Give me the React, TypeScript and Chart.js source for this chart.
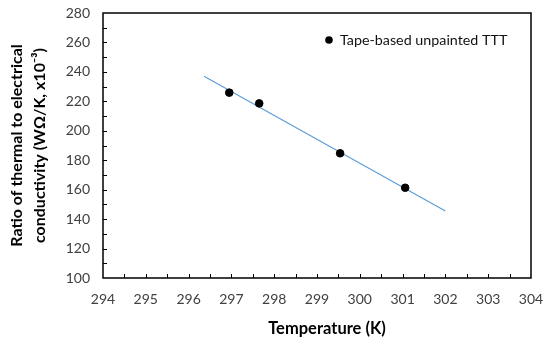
import { useEffect, useRef } from 'react';
import { Chart, registerables } from 'chart.js';

Chart.register(...registerables);

// ---- data ----
const temperatures = [296.95, 297.65, 299.54, 301.06];
const ratios = [225.9, 218.6, 184.7, 161.3];
const trendTemperatures = [296.36, 302.0];
const trendRatios = [237.1, 145.5];
const seriesLabel = 'Tape-based unpainted TTT';
const xTitle = 'Temperature (K)';
const yTitle = ['Ratio of thermal to electrical', 'conductivity (WΩ/K, x10⁻³)'];
const xRange = [294, 304];
const yRange = [100, 280];
const xStep = 1;
const yStep = 20;
const xMinorStep = 0.5;
const yMinorStep = 10;

const FONT = 'Lato, "Open Sans", sans-serif';

const decorPlugin = {
  id: 'decor',
  afterDraw(chart: any) {
    const { ctx, chartArea } = chart;
    const { left, right, top, bottom } = chartArea;
    const xs = chart.scales.x;
    const ys = chart.scales.y;
    ctx.save();
    // inner ticks
    ctx.strokeStyle = '#000';
    ctx.lineWidth = 1;
    ctx.beginPath();
    for (let v = xRange[0] + xMinorStep; v < xRange[1] - 1e-9; v += xMinorStep) {
      const px = Math.round(xs.getPixelForValue(v)) + 0.5;
      ctx.moveTo(px, bottom);
      ctx.lineTo(px, bottom - 4);
    }
    for (let v = yRange[0] + yMinorStep; v < yRange[1] - 1e-9; v += yMinorStep) {
      const py = Math.round(ys.getPixelForValue(v)) + 0.5;
      ctx.moveTo(left, py);
      ctx.lineTo(left + 4, py);
    }
    ctx.stroke();
    // frame
    ctx.lineWidth = 1.5;
    ctx.strokeRect(left, top, right - left, bottom - top);
    // legend
    const ds = chart.data.datasets[0];
    const lx = right - 202;
    const ly = top + 27;
    ctx.fillStyle = ds.backgroundColor;
    ctx.beginPath();
    ctx.arc(lx, ly, 3.8, 0, Math.PI * 2);
    ctx.fill();
    ctx.fillStyle = '#111';
    ctx.font = `14.3px ${FONT}`;
    ctx.textBaseline = 'middle';
    ctx.textAlign = 'left';
    ctx.fillText(ds.label, lx + 11, ly);
    // x title
    ctx.font = `bold 16.5px ${FONT}`;
    ctx.textAlign = 'center';
    ctx.fillStyle = '#000';
    ctx.fillText(xTitle, (left + right) / 2 + 10, 329);
    ctx.restore();
  },
};

export default function App() {
  const ref = useRef<HTMLCanvasElement | null>(null);

  useEffect(() => {
    if (!ref.current) return;
    const chart = new Chart(ref.current, {
      type: 'scatter',
      data: {
        datasets: [
          {
            label: seriesLabel,
            data: temperatures.map((t, i) => ({ x: t, y: ratios[i] })),
            backgroundColor: '#000000',
            borderColor: '#000000',
            pointRadius: 3.8,
            pointHoverRadius: 3.8,
            showLine: false,
          },
          {
            label: 'Linear trend',
            data: trendTemperatures.map((t, i) => ({ x: t, y: trendRatios[i] })),
            borderColor: '#5B9BD5',
            backgroundColor: '#5B9BD5',
            borderWidth: 1.1,
            pointRadius: 0,
            showLine: true,
          },
        ],
      },
      options: {
        animation: false,
        responsive: false,
        devicePixelRatio: 1,
        layout: { padding: { top: 13, right: 19, left: 0, bottom: 0 } },
        plugins: {
          legend: { display: false },
          tooltip: { enabled: false },
        },
        scales: {
          x: {
            type: 'linear',
            min: xRange[0],
            max: xRange[1],
            grid: { display: false, drawTicks: false },
            border: { display: false },
            ticks: {
              stepSize: xStep,
              autoSkip: false,
              maxRotation: 0,
              padding: 13,
              color: '#404040',
              font: { family: FONT, size: 14 },
            },
            afterFit(scale: any) {
              scale.height = 66;
              scale.paddingLeft = 0;
              scale.paddingRight = 0;
            },
          },
          y: {
            type: 'linear',
            min: yRange[0],
            max: yRange[1],
            grid: { display: false, drawTicks: false },
            border: { display: false },
            ticks: {
              stepSize: yStep,
              padding: 13,
              color: '#404040',
              font: { family: FONT, size: 14 },
            },
            title: {
              display: true,
              text: yTitle,
              color: '#000',
              font: { family: FONT, size: 16, weight: 'bold', lineHeight: 1.4 },
              padding: { top: 6, bottom: 0 },
            },
            afterFit(scale: any) {
              scale.width = 103;
              scale.paddingTop = 0;
              scale.paddingBottom = 0;
            },
          },
        },
      },
      plugins: [decorPlugin],
    });
    return () => chart.destroy();
  }, []);

  return (
    <div style={{ position: 'absolute', left: 0, top: 0, width: 550, height: 344, background: '#fff' }}>
      <canvas ref={ref} width={550} height={344} style={{ display: 'block' }} />
    </div>
  );
}
